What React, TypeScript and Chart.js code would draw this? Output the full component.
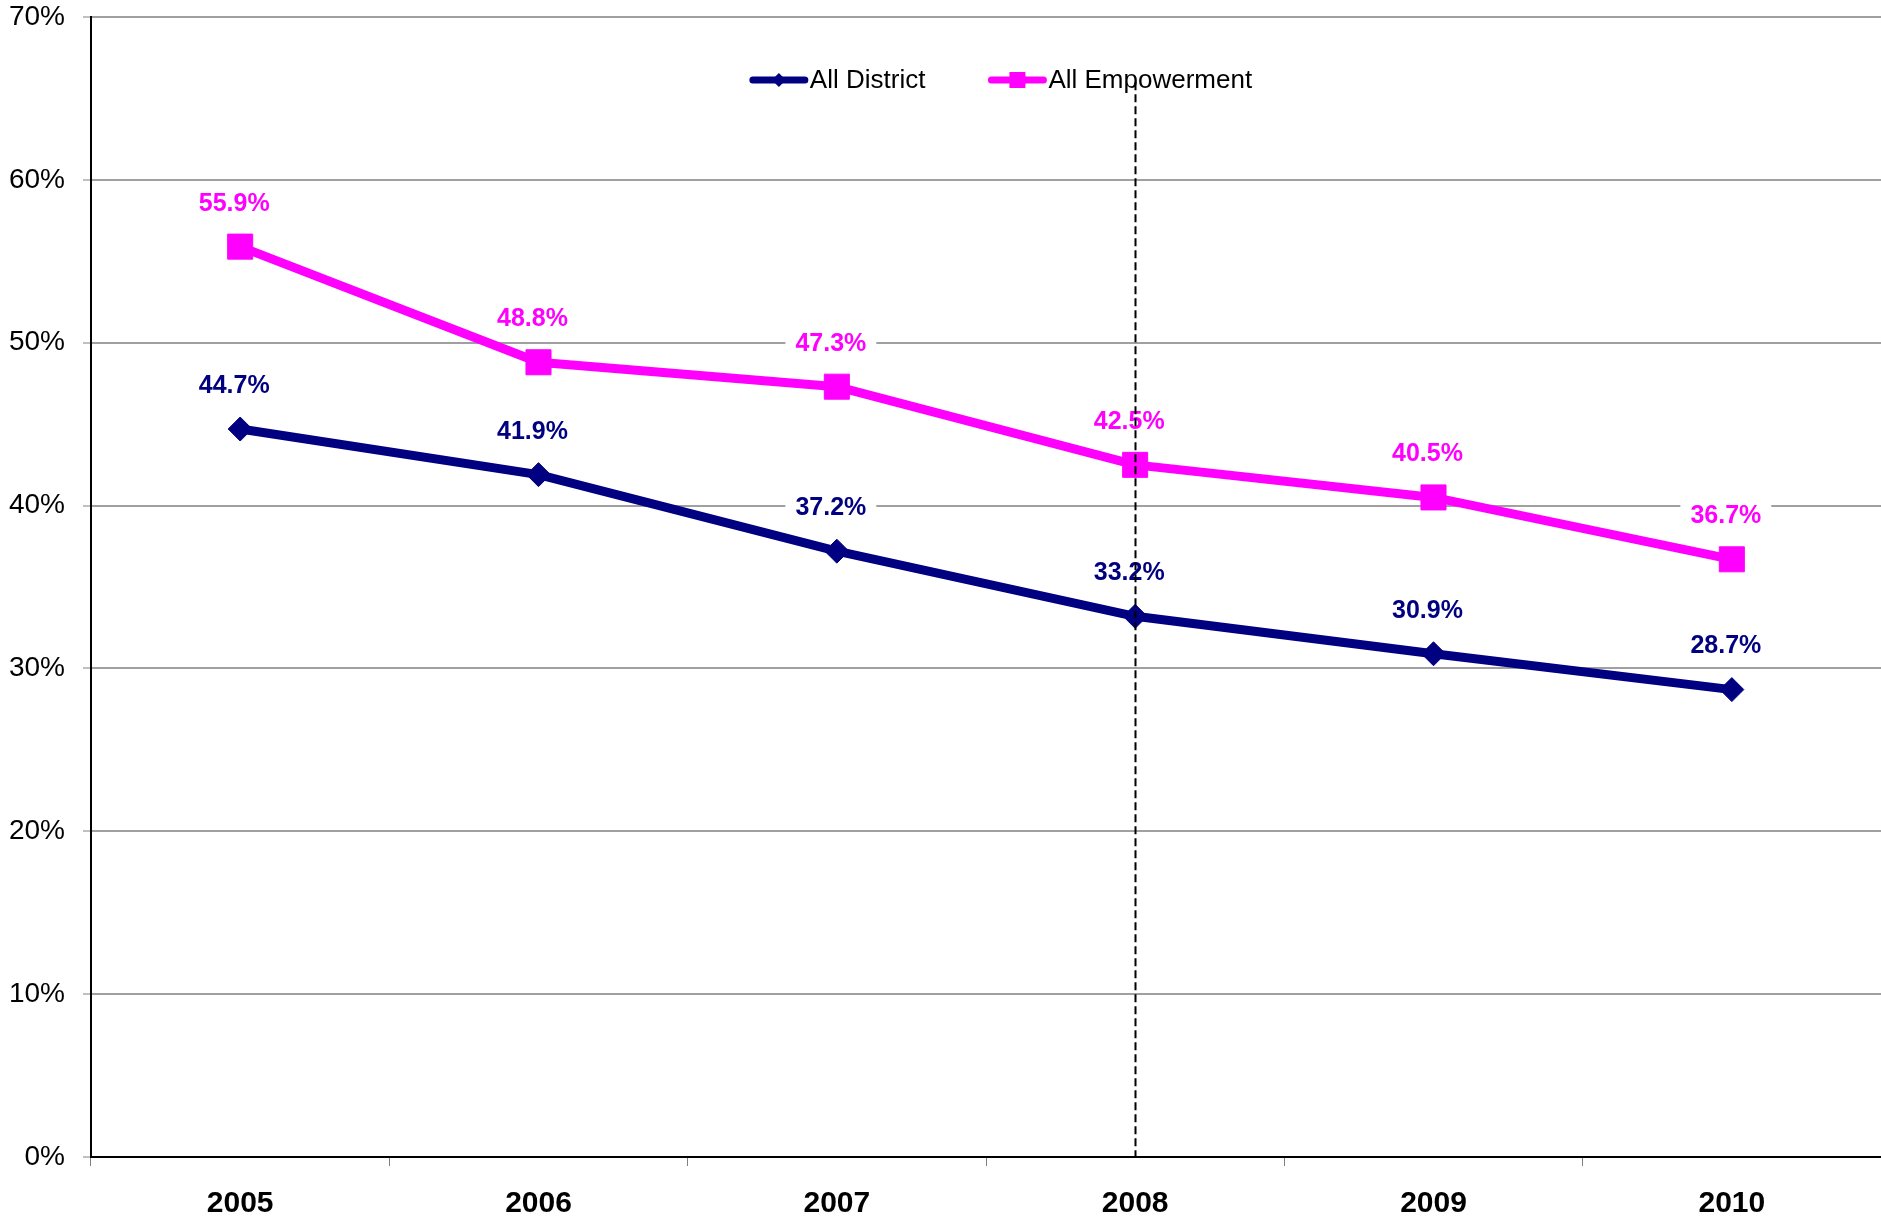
import React, { useEffect, useRef } from "react";
import { Chart, registerables } from "chart.js";

Chart.register(...registerables);

const categories = ["2005", "2006", "2007", "2008", "2009", "2010"];
const allDistrict = [44.7, 41.9, 37.2, 33.2, 30.9, 28.7];
const allEmpowerment = [55.9, 48.8, 47.3, 42.5, 40.5, 36.7];
const yTicks = [0, 10, 20, 30, 40, 50, 60, 70];
const markerCategory = "2008";
const markerTop = 66;

const NAVY = "#000080";
const PINK = "#FF00FF";
const FONT = "'Liberation Sans', Arial, sans-serif";

const customPlugin = {
  id: "custom",
  afterDatasetsDraw(chart: any) {
    const ctx = chart.ctx;
    const xs = chart.scales.x;
    const ys = chart.scales.y;
    ctx.save();
    // data labels
    ctx.font = `bold 25px ${FONT}`;
    ctx.textAlign = "center";
    ctx.textBaseline = "middle";
    chart.data.datasets.forEach((ds: any, di: number) => {
      const meta = chart.getDatasetMeta(di);
      meta.data.forEach((pt: any, i: number) => {
        const txt = ds.data[i].toFixed(1) + "%";
        const x = pt.x - 6;
        const y = pt.y - 43;
        const w = ctx.measureText(txt).width;
        ctx.fillStyle = "#ffffff";
        ctx.fillRect(x - w / 2 - 10, y - 15, w + 20, 30);
        ctx.fillStyle = ds.borderColor;
        ctx.fillText(txt, x, y);
      });
    });
    // dashed vertical line
    const idx = categories.indexOf(markerCategory);
    const dx = Math.round(xs.getPixelForValue(idx)) + 0.5;
    ctx.strokeStyle = "#000000";
    ctx.lineWidth = 2;
    ctx.setLineDash([8, 4]);
    ctx.beginPath();
    ctx.moveTo(dx, ys.getPixelForValue(markerTop));
    ctx.lineTo(dx, ys.getPixelForValue(0));
    ctx.stroke();
    ctx.setLineDash([]);
    // legend
    ctx.font = `26px ${FONT}`;
    ctx.textAlign = "left";
    const items = chart.data.datasets.map((ds: any) => ({
      label: ds.label,
      color: ds.borderColor,
      style: ds.pointStyle,
      w: ctx.measureText(ds.label).width,
    }));
    const lineLen = 58;
    const gapText = 2;
    const gapItem = 63;
    const total = items.reduce((s: number, it: any) => s + lineLen + gapText + it.w, 0) + gapItem * (items.length - 1);
    let lx = (chart.chartArea.left + chart.chartArea.right) / 2 + 15 - total / 2;
    const ly = 80;
    items.forEach((it: any) => {
      ctx.strokeStyle = it.color;
      ctx.fillStyle = it.color;
      ctx.lineWidth = 7;
      ctx.lineCap = "round";
      ctx.beginPath();
      ctx.moveTo(lx + 3, ly);
      ctx.lineTo(lx + lineLen - 3, ly);
      ctx.stroke();
      const cx = lx + lineLen / 2;
      ctx.beginPath();
      if (it.style === "rectRot") {
        ctx.moveTo(cx, ly - 7);
        ctx.lineTo(cx + 7, ly);
        ctx.lineTo(cx, ly + 7);
        ctx.lineTo(cx - 7, ly);
        ctx.closePath();
      } else {
        ctx.rect(cx - 8, ly - 8, 16, 16);
      }
      ctx.fill();
      ctx.fillStyle = "#000000";
      ctx.textBaseline = "middle";
      ctx.fillText(it.label, lx + lineLen + gapText, ly + 1);
      lx += lineLen + gapText + it.w + gapItem;
    });
    ctx.restore();
  },
};

export default function App() {
  const ref = useRef<HTMLCanvasElement>(null);
  useEffect(() => {
    document.body.style.margin = "0";
    const chart = new Chart(ref.current as HTMLCanvasElement, {
      type: "line",
      data: {
        labels: categories,
        datasets: [
          {
            label: "All District",
            data: allDistrict,
            borderColor: NAVY,
            backgroundColor: NAVY,
            borderWidth: 9,
            pointStyle: "rectRot",
            pointRadius: 12,
            pointBorderWidth: 1,
            pointBackgroundColor: NAVY,
            pointBorderColor: NAVY,
            borderCapStyle: "round",
            borderJoinStyle: "round",
            tension: 0,
          },
          {
            label: "All Empowerment",
            data: allEmpowerment,
            borderColor: PINK,
            backgroundColor: PINK,
            borderWidth: 9,
            pointStyle: "rect",
            pointRadius: 17.7,
            pointBorderWidth: 1,
            pointBackgroundColor: PINK,
            pointBorderColor: PINK,
            borderCapStyle: "round",
            borderJoinStyle: "round",
            tension: 0,
          },
        ],
      },
      options: {
        animation: false,
        responsive: false,
        maintainAspectRatio: false,
        layout: { autoPadding: false, padding: { top: 17, right: 0, left: 0, bottom: 0 } },
        plugins: {
          legend: { display: false },
          tooltip: { enabled: false },
        },
        scales: {
          x: {
            offset: true,
            grid: {
              offset: true,
              drawOnChartArea: false,
              drawTicks: true,
              tickLength: 9,
              color: "#808080",
              lineWidth: 1,
            },
            border: { display: true, color: "#000000", width: 2 },
            ticks: {
              color: "#000000",
              font: { family: FONT, size: 30, weight: "bold" },
              padding: 20,
            },
            afterFit: (s: any) => {
              s.height = 62;
              s.paddingLeft = 0;
              s.paddingRight = 0;
            },
          },
          y: {
            min: 0,
            max: 70,
            afterBuildTicks: (s: any) => {
              s.ticks = yTicks.map((v) => ({ value: v }));
            },
            grid: {
              color: "#a0a0a0",
              lineWidth: 2,
              drawTicks: true,
              tickLength: 8,
              tickColor: "#808080",
              tickWidth: 1,
            },
            border: { display: true, color: "#000000", width: 2 },
            ticks: {
              color: "#000000",
              font: { family: FONT, size: 28 },
              padding: 18,
              callback: (v: any) => v + "%",
            },
            afterFit: (s: any) => {
              s.width = 91;
              s.paddingTop = 0;
              s.paddingBottom = 0;
            },
          },
        },
      },
      plugins: [customPlugin],
    } as any);
    return () => chart.destroy();
  }, []);
  return (
    <div style={{ width: 1881, height: 1219 }}>
      <canvas ref={ref} width={1881} height={1219} style={{ display: "block" }} />
    </div>
  );
}
